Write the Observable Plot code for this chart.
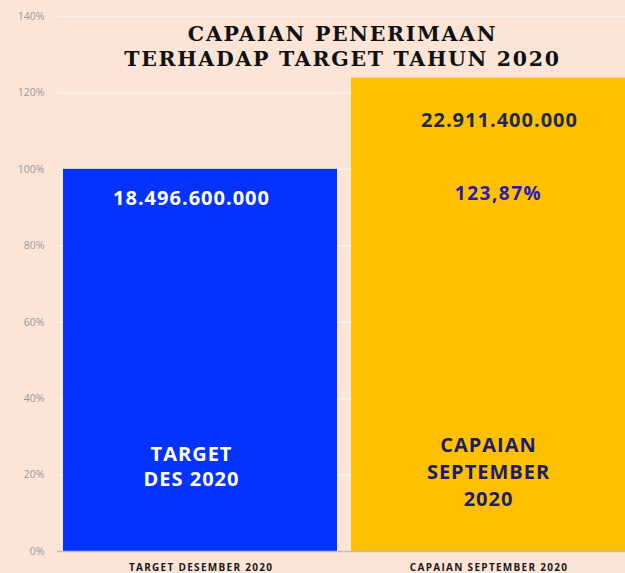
<!DOCTYPE html>
<html><head><meta charset="utf-8">
<script src="https://cdn.jsdelivr.net/npm/d3@7"></script>
<script src="https://cdn.jsdelivr.net/npm/@observablehq/plot@0.6"></script>
<style>
html,body{margin:0;padding:0;background:#FCE4D6;overflow:hidden}
g[aria-label="x-axis tick label"] text{letter-spacing:1.3px}
</style></head><body><div id="chart"></div>
<script>
const categories = ["TARGET DESEMBER 2020", "CAPAIAN SEPTEMBER 2020"];
const percentValues = [100, 123.87];
const barColors = ["#0433FF", "#FFC000"];
const yTicks = [0, 20, 40, 60, 80, 100, 120, 140];
const titleText = "CAPAIAN PENERIMAAN\nTERHADAP TARGET TAHUN 2020";

// annotations inside bars: category, vertical placement (in % units), text, colour, size, horizontal nudge, tracking
const noteCategory = [categories[0], categories[0], categories[1], categories[1], categories[1]];
const noteY = [92.6, 22.4, 113.0, 93.9, 21.2];
const noteText = ["18.496.600.000", "TARGET\nDES 2020", "22.911.400.000", "123,87%", "CAPAIAN\nSEPTEMBER\n2020"];
const noteColor = ["#FFFFFF", "#FFFFFF", "#1E2A4E", "#2A1AB8", "#1C1C6A"];
const noteSize = [20, 20, 20, 19, 20];
const noteLineHeight = [1.2, 1.25, 1.2, 1.2, 1.35];
const noteDx = [-9, -9, 11, 10, 0];
const noteTracking = [1, 1, 1, 1.5, 1];

const bars = categories.map((c, i) => ({category: c, value: percentValues[i]}));
const notes = noteText.map((t, i) => ({category: noteCategory[i], y: noteY[i], text: t, color: noteColor[i], size: noteSize[i], lh: noteLineHeight[i], dx: noteDx[i]}));

const chart = Plot.plot({
  width: 625, height: 573,
  marginLeft: 57, marginRight: 0, marginTop: 16, marginBottom: 22,
  style: {background: "#FCE4D6", fontFamily: "Open Sans", overflow: "visible"},
  x: {domain: categories, range: [62, 626], paddingInner: 0.0484, paddingOuter: 0, label: null},
  y: {domain: [0, 140], label: null},
  color: {domain: categories, range: barColors},
  marks: [
    Plot.gridY(yTicks, {stroke: "#F7F0EC", strokeOpacity: 1, strokeWidth: 1.5}),
    Plot.barY(bars, {x: "category", y: "value", fill: "category"}),
    Plot.ruleY([0], {stroke: "#BDBDBD", strokeWidth: 1.5}),
    Plot.axisY(yTicks, {tickFormat: d => d + "%", tickSize: 0, tickPadding: 13, fontSize: 10.5, fill: "#9A9A9A", label: null}),
    Plot.axisX({tickSize: 0, tickPadding: 12, fontSize: 10, fontWeight: "bold", fill: "#1A1A1A", label: null, dx: 0.6}),
    ...notes.map(n => Plot.text([n], {
      x: "category", y: "y", text: "text", fill: n.color, fontSize: n.size, fontWeight: "bold",
      lineHeight: n.lh, dx: n.dx
    })),
    Plot.text([titleText], {
      text: d => d, frameAnchor: "top", dy: 29, dx: 1, lineAnchor: "middle", lineHeight: 1.24,
      fontFamily: "DejaVu Serif", fontWeight: "bold", fontSize: 20.5, fill: "#111111"
    })
  ]
});
// letter tracking for the in-bar labels and the title
const flat = s => s.replace(/\n/g, "");
d3.select(chart).selectAll("text").each(function() {
  const t = this.textContent;
  const i = noteText.findIndex(s => flat(s) === t);
  if (i >= 0) this.style.letterSpacing = noteTracking[i] + "px";
  else if (t === flat(titleText)) this.style.letterSpacing = "1.7px";
});
document.getElementById("chart").appendChild(chart);
</script></body></html>
